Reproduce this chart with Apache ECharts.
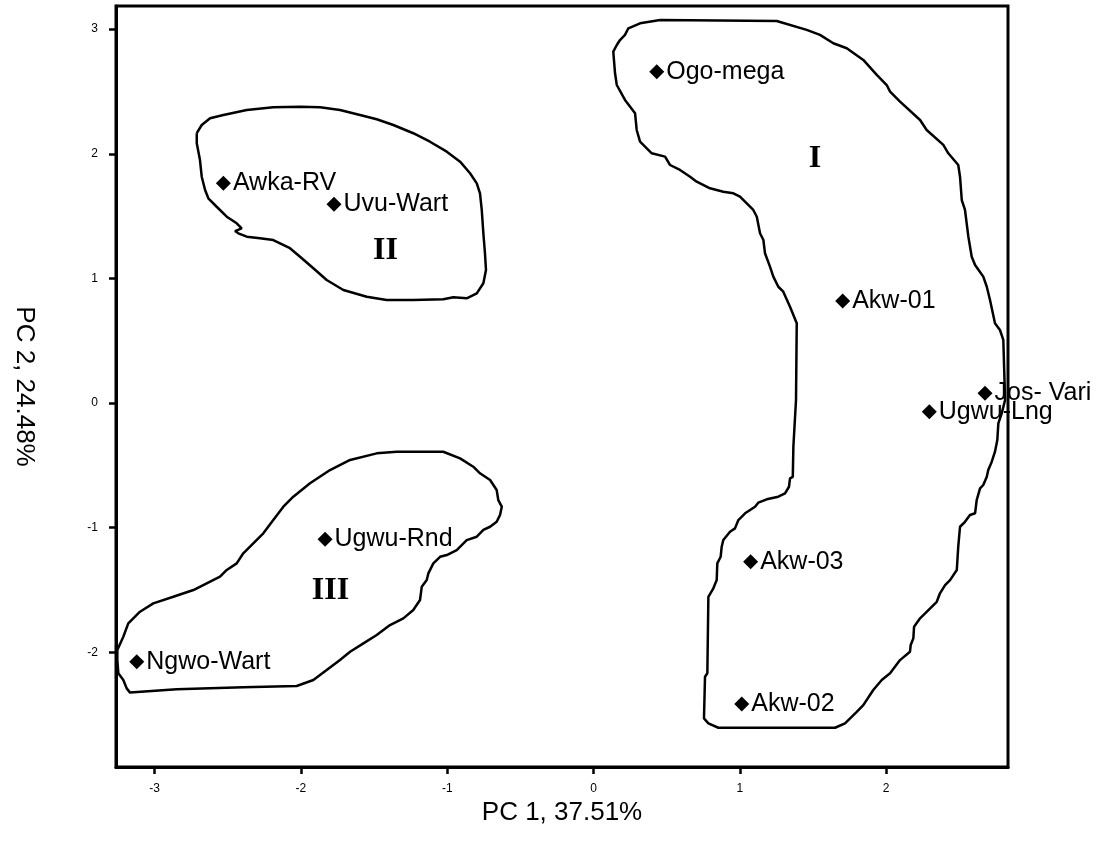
<!DOCTYPE html>
<html>
<head>
<meta charset="utf-8">
<script src="https://cdn.jsdelivr.net/npm/echarts@6/dist/echarts.min.js"></script>
<style>
html,body{margin:0;padding:0;background:#fff;}
#chart{width:1102px;height:841px;}
</style>
</head>
<body>
<div id="chart"></div>
<script>
// ---- data ----
const sampleNames = ['Ogo-mega','Awka-RV','Uvu-Wart','Akw-01','Jos- Vari','Ugwu-Lng','Ugwu-Rnd','Akw-03','Ngwo-Wart','Akw-02'];
const sampleX = [0.432,-2.530,-1.774,1.703,2.676,2.295,-1.835,1.074,-3.122,1.013];
const sampleY = [2.659,1.763,1.595,0.819,0.078,-0.070,-1.094,-1.274,-2.076,-2.416];

const groupNames = ['I','II','III'];
const groupX = [1.514,-1.422,-1.798];
const groupY = [1.958,1.220,-1.509];

const xTicks = [-3,-2,-1,0,1,2];
const yTicks = [-2,-1,0,1,2,3];

const hullI = [
[0.455,3.074],[1.252,3.066],[1.457,2.994],[1.548,2.954],[1.639,2.887],[1.731,2.847],[1.844,2.753],[1.936,2.633],
[2.004,2.552],[2.027,2.499],[2.095,2.418],[2.232,2.271],[2.277,2.191],[2.391,2.071],[2.425,2.004],[2.493,1.910],
[2.505,1.816],[2.517,1.629],[2.539,1.549],[2.562,1.335],[2.585,1.174],[2.608,1.108],[2.664,1.014],[2.688,0.933],
[2.710,0.827],[2.744,0.640],[2.778,0.586],[2.801,0.506],[2.813,0.024],[2.790,-0.083],[2.767,-0.163],[2.760,-0.297],
[2.744,-0.391],[2.722,-0.471],[2.698,-0.538],[2.688,-0.592],[2.664,-0.658],[2.642,-0.685],[2.619,-0.779],[2.608,-0.885],
[2.573,-0.899],[2.539,-0.953],[2.505,-0.993],[2.493,-1.153],[2.483,-1.340],[2.437,-1.421],[2.403,-1.461],[2.368,-1.527],
[2.346,-1.595],[2.232,-1.728],[2.191,-1.795],[2.186,-1.889],[2.168,-1.942],[2.163,-1.996],[2.095,-2.063],[2.027,-2.169],
[1.970,-2.223],[1.912,-2.303],[1.844,-2.424],[1.799,-2.478],[1.719,-2.571],[1.651,-2.606],[0.853,-2.606],[0.785,-2.571],
[0.755,-2.531],[0.762,-2.197],[0.778,-2.169],[0.785,-1.555],[0.819,-1.487],[0.842,-1.421],[0.846,-1.287],[0.869,-1.234],
[0.876,-1.153],[0.887,-1.100],[0.933,-1.033],[0.967,-1.006],[0.990,-0.939],[1.036,-0.885],[1.104,-0.832],[1.126,-0.800],
[1.184,-0.773],[1.263,-0.752],[1.309,-0.725],[1.336,-0.672],[1.343,-0.604],[1.362,-0.592],[1.366,-0.351],[1.384,0.024],
[1.389,0.640],[1.343,0.773],[1.297,0.893],[1.263,0.933],[1.229,1.014],[1.206,1.094],[1.172,1.202],[1.161,1.308],
[1.138,1.362],[1.116,1.495],[1.092,1.549],[1.001,1.656],[0.956,1.683],[0.887,1.696],[0.796,1.723],[0.705,1.776],
[0.660,1.816],[0.591,1.870],[0.523,1.910],[0.489,1.977],[0.398,2.004],[0.318,2.097],[0.295,2.191],[0.284,2.325],
[0.215,2.432],[0.159,2.552],[0.147,2.646],[0.135,2.820],[0.159,2.873],[0.181,2.913],[0.215,2.954],[0.238,3.007],
[0.318,3.047],[0.455,3.074]
];

const hullII = [
[-2.712,2.165],[-2.678,2.231],[-2.621,2.285],[-2.530,2.311],[-2.370,2.352],[-2.189,2.373],[-2.006,2.378],[-1.869,2.373],
[-1.733,2.352],[-1.596,2.311],[-1.482,2.277],[-1.368,2.231],[-1.232,2.165],[-1.118,2.097],[-1.003,2.017],[-0.912,1.937],
[-0.844,1.844],[-0.798,1.763],[-0.776,1.683],[-0.764,1.549],[-0.753,1.362],[-0.742,1.202],[-0.735,1.067],[-0.753,0.961],
[-0.798,0.880],[-0.867,0.840],[-0.958,0.848],[-1.027,0.832],[-1.232,0.827],[-1.414,0.827],[-1.550,0.853],[-1.710,0.907],
[-1.824,0.987],[-1.915,1.081],[-2.006,1.174],[-2.075,1.242],[-2.189,1.308],[-2.280,1.322],[-2.370,1.335],[-2.428,1.362],
[-2.450,1.380],[-2.405,1.402],[-2.439,1.442],[-2.507,1.495],[-2.576,1.575],[-2.633,1.643],[-2.655,1.709],[-2.678,1.816],
[-2.690,1.950],[-2.712,2.084],[-2.712,2.165]
];

const hullIII = [
[-1.163,-0.391],[-1.027,-0.391],[-0.912,-0.444],[-0.822,-0.511],[-0.776,-0.564],[-0.707,-0.618],[-0.662,-0.698],[-0.651,-0.779],
[-0.627,-0.832],[-0.639,-0.899],[-0.662,-0.953],[-0.707,-0.993],[-0.753,-1.019],[-0.798,-1.073],[-0.867,-1.100],[-0.935,-1.180],
[-1.003,-1.220],[-1.049,-1.234],[-1.095,-1.287],[-1.129,-1.367],[-1.140,-1.421],[-1.174,-1.474],[-1.186,-1.581],[-1.232,-1.661],
[-1.300,-1.728],[-1.391,-1.782],[-1.482,-1.862],[-1.573,-1.929],[-1.664,-1.996],[-1.733,-2.063],[-1.824,-2.143],[-1.915,-2.223],
[-2.029,-2.271],[-2.394,-2.282],[-2.849,-2.298],[-3.168,-2.324],[-3.191,-2.290],[-3.214,-2.223],[-3.248,-2.169],[-3.255,-2.063],
[-3.255,-1.982],[-3.214,-1.876],[-3.180,-1.768],[-3.100,-1.675],[-3.009,-1.608],[-2.872,-1.555],[-2.735,-1.501],[-2.644,-1.447],
[-2.553,-1.394],[-2.507,-1.340],[-2.439,-1.287],[-2.394,-1.206],[-2.348,-1.153],[-2.257,-1.046],[-2.189,-0.939],[-2.120,-0.832],
[-2.052,-0.752],[-1.938,-0.644],[-1.801,-0.538],[-1.664,-0.457],[-1.482,-0.404],[-1.345,-0.391],[-1.163,-0.391]
];

// ---- chart ----
const chart = echarts.init(document.getElementById('chart'), null, {renderer:'canvas'});
const sansFont = 'Liberation Sans';
const hullStyle = {color:'#000', width:2.5, opacity:1};
function hullSeries(d){
  return {type:'line', data:d, symbol:'none', smooth:false, silent:true,
          lineStyle:hullStyle, z:2};
}
const option = {
  animation:false,
  backgroundColor:'#fff',
  grid:{left:116, right:94, top:6, bottom:74, show:true, borderColor:'#000', borderWidth:3,
        containLabel:false, outerBoundsMode:'none'},
  xAxis:{
    type:'value', min:-3.264, max:2.833,
    name:'PC 1, 37.51%', nameLocation:'middle', nameGap:29,
    nameTextStyle:{fontFamily:sansFont, fontSize:26, color:'#000'},
    axisLine:{show:true, onZero:false, lineStyle:{color:'#000', width:3}},
    axisTick:{show:true, length:7, customValues:xTicks, lineStyle:{color:'#000', width:2.5}},
    axisLabel:{show:true, customValues:xTicks, margin:16, fontFamily:sansFont, fontSize:12, color:'#000'},
    splitLine:{show:false}
  },
  yAxis:{
    type:'value', min:-2.921, max:3.186,
    name:'PC 2, 24.48%', nameLocation:'middle', nameGap:79, nameRotate:-90,
    nameTextStyle:{fontFamily:sansFont, fontSize:26, color:'#000'},
    axisLine:{show:true, onZero:false, lineStyle:{color:'#000', width:3}},
    axisTick:{show:true, length:7, customValues:yTicks, lineStyle:{color:'#000', width:2.5}},
    axisLabel:{show:true, customValues:yTicks, margin:18, fontFamily:sansFont, fontSize:12, color:'#000'},
    splitLine:{show:false}
  },
  series:[
    hullSeries(hullI),
    hullSeries(hullII),
    hullSeries(hullIII),
    {
      type:'scatter', symbol:'diamond', symbolSize:15, z:3,
      itemStyle:{color:'#000', opacity:1},
      data: sampleNames.map((n,i)=>({name:n, value:[sampleX[i], sampleY[i]]})),
      label:{show:true, position:'right', distance:2, formatter:p=>p.name, opacity:1,
             fontFamily:sansFont, fontSize:25, color:'#000'}
    },
    {
      type:'scatter', symbol:'circle', symbolSize:1, z:3,
      itemStyle:{color:'#fff', opacity:0},
      data: groupNames.map((n,i)=>({name:n, value:[groupX[i], groupY[i]]})),
      label:{show:true, position:'inside', formatter:p=>p.name, opacity:1,
             fontFamily:'Liberation Serif', fontWeight:'bold', fontSize:32, color:'#000'}
    }
  ]
};
chart.setOption(option);
</script>
</body>
</html>
